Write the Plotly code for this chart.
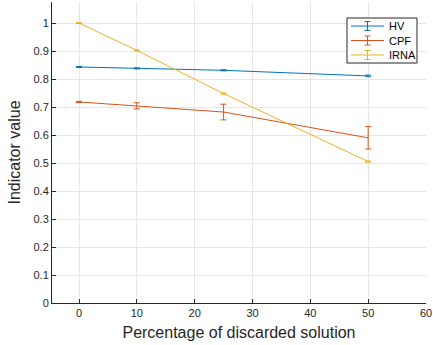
import plotly.graph_objects as go

# Percentage of discarded solutions
discarded = [0, 10, 25, 50]

# Indicator means and error half-widths per method
hv_mean = [0.843, 0.838, 0.831, 0.811]
hv_err = [0.002, 0.002, 0.002, 0.003]

cpf_mean = [0.718, 0.704, 0.682, 0.590]
cpf_err = [0.002, 0.011, 0.028, 0.040]

irna_mean = [1.000, 0.902, 0.748, 0.505]
irna_err = [0.002, 0.002, 0.002, 0.002]

x_ticks = [0, 10, 20, 30, 40, 50, 60]
y_ticks = [0, 0.1, 0.2, 0.3, 0.4, 0.5, 0.6, 0.7, 0.8, 0.9, 1.0]
y_tick_text = ["0", "0.1", "0.2", "0.3", "0.4", "0.5", "0.6", "0.7", "0.8", "0.9", "1"]

series = [
    ("HV", hv_mean, hv_err, "#0072BD"),
    ("CPF", cpf_mean, cpf_err, "#D95319"),
    ("IRNA", irna_mean, irna_err, "#EDB120"),
]

W, H = 433, 345
ML, MR, MT, MB = 52, 7, 2, 42
PW, PH = W - ML - MR, H - MT - MB

def px_x(p):
    return (p - ML) / PW

def px_y(p):
    return (H - MB - p) / PH

fig = go.Figure()
for name, mean, err, color in series:
    fig.add_trace(go.Scatter(
        x=discarded, y=mean, name=name, mode="lines",
        line=dict(color=color, width=1),
        error_y=dict(type="data", array=err, visible=True,
                     color=color, thickness=1, width=3),
        showlegend=False,
    ))

# Boxed legend with line + errorbar glyphs, top-right of the axes
shapes = [dict(type="rect", xref="paper", yref="paper",
               x0=px_x(347), x1=px_x(417), y0=px_y(63), y1=px_y(18),
               line=dict(color="#262626", width=1), fillcolor="white", layer="above")]
annotations = []
for i, (name, _, _, color) in enumerate(series):
    yc = 26 + i * 14.5
    shapes.append(dict(type="line", xref="paper", yref="paper",
                       x0=px_x(351), x1=px_x(384), y0=px_y(yc), y1=px_y(yc),
                       line=dict(color=color, width=1), layer="above"))
    shapes.append(dict(type="line", xref="paper", yref="paper",
                       x0=px_x(367.5), x1=px_x(367.5), y0=px_y(yc - 4.5), y1=px_y(yc + 4.5),
                       line=dict(color=color, width=1), layer="above"))
    for dy in (-4.5, 4.5):
        shapes.append(dict(type="line", xref="paper", yref="paper",
                           x0=px_x(364.5), x1=px_x(370.5), y0=px_y(yc + dy), y1=px_y(yc + dy),
                           line=dict(color=color, width=1), layer="above"))
    annotations.append(dict(xref="paper", yref="paper", x=px_x(387), y=px_y(yc),
                            xanchor="left", yanchor="middle", text=name, showarrow=False,
                            font=dict(family="Liberation Sans, Arial, sans-serif",
                                      size=11, color="#000000")))

axis_font = dict(family="Liberation Sans, Arial, sans-serif", size=11, color="#262626")
title_font = dict(family="Liberation Sans, Arial, sans-serif", size=16, color="#262626")

fig.update_layout(
    width=W, height=H,
    margin=dict(l=ML, r=MR, t=MT, b=MB),
    paper_bgcolor="white", plot_bgcolor="white",
    font=axis_font,
    showlegend=False,
    shapes=shapes,
    annotations=annotations,
)

fig.update_xaxes(
    range=[-4.67, 60], tickvals=x_ticks, ticks="inside", ticklen=4,
    tickcolor="#262626", showline=True, linecolor="#262626", linewidth=1,
    showgrid=True, gridcolor="#e6e6e6", gridwidth=1, zeroline=False,
    tickfont=axis_font,
    title=dict(text="Percentage of discarded solution", font=title_font, standoff=8),
)
fig.update_yaxes(
    range=[0, 1.075], tickvals=y_ticks, ticktext=y_tick_text, ticks="inside", ticklen=4,
    tickcolor="#262626", showline=True, linecolor="#262626", linewidth=1,
    showgrid=True, gridcolor="#e6e6e6", gridwidth=1, zeroline=False,
    tickfont=axis_font,
    title=dict(text="Indicator value", font=title_font, standoff=8),
)

fig.write_html("out.html")
